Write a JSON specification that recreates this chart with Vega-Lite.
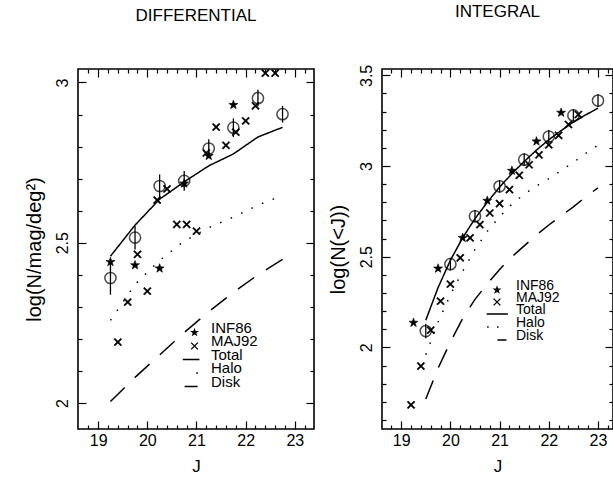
{
  "$schema": "https://vega.github.io/schema/vega-lite/v6.json",
  "padding": {"left": 23, "top": 2, "right": 0, "bottom": 0},
  "background": "white",
  "bounds": "flush",
  "spacing": 68,
  "config": {
    "font": "Liberation Sans",
    "view": {"stroke": "black", "strokeWidth": 1.6},
    "axis": {"domain": false, "grid": false, "tickColor": "black", "tickWidth": 1.2, "labelColor": "black", "titleColor": "black", "labelFontSize": 16, "titleFontSize": 20, "titleFontWeight": "normal", "labelFlush": false, "labelOverlap": false},
    "title": {"fontSize": 17, "fontWeight": "normal", "color": "black", "frame": "group", "anchor": "middle", "offset": 43}
  },
  "resolve": {"scale": {"x": "independent", "y": "independent", "shape": "independent", "strokeDash": "independent"}, "legend": {"shape": "independent"}},
  "datasets": {
    "diffObs": [
      {"J": 19.25, "logN": 2.39, "lo": 2.338, "hi": 2.442},
      {"J": 19.75, "logN": 2.516, "lo": 2.479, "hi": 2.553},
      {"J": 20.25, "logN": 2.677, "lo": 2.641, "hi": 2.713},
      {"J": 20.75, "logN": 2.693, "lo": 2.662, "hi": 2.724},
      {"J": 21.25, "logN": 2.794, "lo": 2.765, "hi": 2.823},
      {"J": 21.75, "logN": 2.859, "lo": 2.83, "hi": 2.888},
      {"J": 22.25, "logN": 2.951, "lo": 2.925, "hi": 2.977},
      {"J": 22.75, "logN": 2.901, "lo": 2.875, "hi": 2.927}
    ],
    "diffPts": [
      {"J": 19.25, "logN": 2.44, "series": "INF86"},
      {"J": 19.75, "logN": 2.43, "series": "INF86"},
      {"J": 20.25, "logN": 2.42, "series": "INF86"},
      {"J": 20.75, "logN": 2.685, "series": "INF86"},
      {"J": 21.25, "logN": 2.771, "series": "INF86"},
      {"J": 21.75, "logN": 2.93, "series": "INF86"},
      {"J": 19.4, "logN": 2.19, "series": "MAJ92"},
      {"J": 19.6, "logN": 2.315, "series": "MAJ92"},
      {"J": 19.8, "logN": 2.464, "series": "MAJ92"},
      {"J": 20.0, "logN": 2.349, "series": "MAJ92"},
      {"J": 20.2, "logN": 2.633, "series": "MAJ92"},
      {"J": 20.4, "logN": 2.668, "series": "MAJ92"},
      {"J": 20.6, "logN": 2.557, "series": "MAJ92"},
      {"J": 20.8, "logN": 2.557, "series": "MAJ92"},
      {"J": 21.0, "logN": 2.536, "series": "MAJ92"},
      {"J": 21.2, "logN": 2.78, "series": "MAJ92"},
      {"J": 21.4, "logN": 2.861, "series": "MAJ92"},
      {"J": 21.6, "logN": 2.804, "series": "MAJ92"},
      {"J": 21.8, "logN": 2.845, "series": "MAJ92"},
      {"J": 22.0, "logN": 2.88, "series": "MAJ92"},
      {"J": 22.2, "logN": 2.927, "series": "MAJ92"},
      {"J": 22.4, "logN": 3.029, "series": "MAJ92"},
      {"J": 22.6, "logN": 3.029, "series": "MAJ92"}
    ],
    "diffModel": [
      {"J": 19.25, "logN": 2.458, "component": "Total"},
      {"J": 19.75, "logN": 2.555, "component": "Total"},
      {"J": 20.25, "logN": 2.636, "component": "Total"},
      {"J": 20.75, "logN": 2.69, "component": "Total"},
      {"J": 21.25, "logN": 2.74, "component": "Total"},
      {"J": 21.75, "logN": 2.777, "component": "Total"},
      {"J": 22.25, "logN": 2.83, "component": "Total"},
      {"J": 22.75, "logN": 2.86, "component": "Total"},
      {"J": 19.25, "logN": 2.258, "component": "Halo"},
      {"J": 19.75, "logN": 2.37, "component": "Halo"},
      {"J": 20.25, "logN": 2.445, "component": "Halo"},
      {"J": 20.75, "logN": 2.505, "component": "Halo"},
      {"J": 21.25, "logN": 2.547, "component": "Halo"},
      {"J": 21.75, "logN": 2.58, "component": "Halo"},
      {"J": 22.25, "logN": 2.617, "component": "Halo"},
      {"J": 22.75, "logN": 2.648, "component": "Halo"},
      {"J": 19.25, "logN": 2.005, "component": "Disk"},
      {"J": 19.75, "logN": 2.08, "component": "Disk"},
      {"J": 20.25, "logN": 2.15, "component": "Disk"},
      {"J": 20.75, "logN": 2.22, "component": "Disk"},
      {"J": 21.25, "logN": 2.285, "component": "Disk"},
      {"J": 21.75, "logN": 2.345, "component": "Disk"},
      {"J": 22.25, "logN": 2.4, "component": "Disk"},
      {"J": 22.75, "logN": 2.448, "component": "Disk"}
    ],
    "intObs": [
      {"J": 19.5, "logN": 2.09, "lo": 2.05, "hi": 2.13},
      {"J": 20.0, "logN": 2.459, "lo": 2.424, "hi": 2.494},
      {"J": 20.5, "logN": 2.723, "lo": 2.688, "hi": 2.758},
      {"J": 21.0, "logN": 2.888, "lo": 2.853, "hi": 2.923},
      {"J": 21.5, "logN": 3.035, "lo": 3.0, "hi": 3.07},
      {"J": 22.0, "logN": 3.163, "lo": 3.128, "hi": 3.198},
      {"J": 22.5, "logN": 3.279, "lo": 3.244, "hi": 3.314},
      {"J": 23.0, "logN": 3.361, "lo": 3.326, "hi": 3.396}
    ],
    "intPts": [
      {"J": 19.25, "logN": 2.136, "series": "INF86"},
      {"J": 19.75, "logN": 2.435, "series": "INF86"},
      {"J": 20.25, "logN": 2.604, "series": "INF86"},
      {"J": 20.75, "logN": 2.809, "series": "INF86"},
      {"J": 21.25, "logN": 2.974, "series": "INF86"},
      {"J": 21.75, "logN": 3.136, "series": "INF86"},
      {"J": 22.25, "logN": 3.294, "series": "INF86"},
      {"J": 19.2, "logN": 1.683, "series": "MAJ92"},
      {"J": 19.4, "logN": 1.897, "series": "MAJ92"},
      {"J": 19.6, "logN": 2.095, "series": "MAJ92"},
      {"J": 19.8, "logN": 2.255, "series": "MAJ92"},
      {"J": 20.0, "logN": 2.349, "series": "MAJ92"},
      {"J": 20.2, "logN": 2.494, "series": "MAJ92"},
      {"J": 20.4, "logN": 2.604, "series": "MAJ92"},
      {"J": 20.6, "logN": 2.677, "series": "MAJ92"},
      {"J": 20.8, "logN": 2.741, "series": "MAJ92"},
      {"J": 21.0, "logN": 2.793, "series": "MAJ92"},
      {"J": 21.2, "logN": 2.87, "series": "MAJ92"},
      {"J": 21.4, "logN": 2.949, "series": "MAJ92"},
      {"J": 21.6, "logN": 3.007, "series": "MAJ92"},
      {"J": 21.8, "logN": 3.062, "series": "MAJ92"},
      {"J": 22.0, "logN": 3.117, "series": "MAJ92"},
      {"J": 22.2, "logN": 3.169, "series": "MAJ92"},
      {"J": 22.4, "logN": 3.229, "series": "MAJ92"},
      {"J": 22.6, "logN": 3.284, "series": "MAJ92"}
    ],
    "intModel": [
      {"J": 19.5, "logN": 2.15, "component": "Total"},
      {"J": 19.75, "logN": 2.33, "component": "Total"},
      {"J": 20.0, "logN": 2.48, "component": "Total"},
      {"J": 20.25, "logN": 2.605, "component": "Total"},
      {"J": 20.5, "logN": 2.71, "component": "Total"},
      {"J": 20.75, "logN": 2.8, "component": "Total"},
      {"J": 21.0, "logN": 2.884, "component": "Total"},
      {"J": 21.25, "logN": 2.958, "component": "Total"},
      {"J": 21.5, "logN": 3.025, "component": "Total"},
      {"J": 21.75, "logN": 3.088, "component": "Total"},
      {"J": 22.0, "logN": 3.145, "component": "Total"},
      {"J": 22.25, "logN": 3.195, "component": "Total"},
      {"J": 22.5, "logN": 3.242, "component": "Total"},
      {"J": 22.75, "logN": 3.282, "component": "Total"},
      {"J": 23.0, "logN": 3.319, "component": "Total"},
      {"J": 19.5, "logN": 1.96, "component": "Halo"},
      {"J": 19.75, "logN": 2.14, "component": "Halo"},
      {"J": 20.0, "logN": 2.29, "component": "Halo"},
      {"J": 20.25, "logN": 2.42, "component": "Halo"},
      {"J": 20.5, "logN": 2.54, "component": "Halo"},
      {"J": 20.75, "logN": 2.64, "component": "Halo"},
      {"J": 21.0, "logN": 2.72, "component": "Halo"},
      {"J": 21.25, "logN": 2.79, "component": "Halo"},
      {"J": 21.5, "logN": 2.845, "component": "Halo"},
      {"J": 21.75, "logN": 2.89, "component": "Halo"},
      {"J": 22.0, "logN": 2.93, "component": "Halo"},
      {"J": 22.25, "logN": 2.975, "component": "Halo"},
      {"J": 22.5, "logN": 3.02, "component": "Halo"},
      {"J": 22.75, "logN": 3.07, "component": "Halo"},
      {"J": 23.0, "logN": 3.115, "component": "Halo"},
      {"J": 19.5, "logN": 1.715, "component": "Disk"},
      {"J": 19.75, "logN": 1.885, "component": "Disk"},
      {"J": 20.0, "logN": 2.03, "component": "Disk"},
      {"J": 20.25, "logN": 2.16, "component": "Disk"},
      {"J": 20.5, "logN": 2.265, "component": "Disk"},
      {"J": 20.75, "logN": 2.35, "component": "Disk"},
      {"J": 21.0, "logN": 2.43, "component": "Disk"},
      {"J": 21.25, "logN": 2.5, "component": "Disk"},
      {"J": 21.5, "logN": 2.56, "component": "Disk"},
      {"J": 21.75, "logN": 2.62, "component": "Disk"},
      {"J": 22.0, "logN": 2.675, "component": "Disk"},
      {"J": 22.25, "logN": 2.725, "component": "Disk"},
      {"J": 22.5, "logN": 2.775, "component": "Disk"},
      {"J": 22.75, "logN": 2.83, "component": "Disk"},
      {"J": 23.0, "logN": 2.88, "component": "Disk"}
    ]
  },
  "hconcat": [
    {
      "width": 236,
      "height": 360,
      "title": {"text": "DIFFERENTIAL"},
      "resolve": {"axis": {"x": "independent", "y": "independent"}},
      "layer": [
        {
          "data": {"name": "diffModel"},
          "mark": {"type": "line", "stroke": "black", "strokeWidth": 1.5},
          "encoding": {
            "x": {"field": "J", "type": "quantitative", "scale": {"domain": [18.59, 23.39], "nice": false, "zero": false},
                  "axis": {"orient": "bottom", "values": [19, 20, 21, 22, 23], "tickSize": -8, "labelPadding": 11, "format": "d", "title": "J", "titleFontSize": 17, "titlePadding": 10}},
            "y": {"field": "logN", "type": "quantitative", "scale": {"domain": [1.919, 3.042], "nice": false, "zero": false},
                  "axis": {"orient": "left", "values": [2, 2.5, 3], "tickSize": -8, "labelPadding": 16, "labelAngle": -90, "format": "~g", "title": "log(N/mag/deg²)", "titlePadding": 10}},
            "strokeDash": {"field": "component", "type": "nominal", "scale": {"domain": ["Total", "Halo", "Disk"], "range": [[1, 0], [1.5, 10], [20, 14]]}, "legend": null}
          }
        },
        {
          "data": {"name": "diffObs"},
          "mark": {"type": "rule", "stroke": "black", "strokeWidth": 1.3},
          "encoding": {
            "x": {"field": "J", "type": "quantitative", "axis": {"orient": "bottom", "values": [18.8, 19.2, 19.4, 19.6, 19.8, 20.2, 20.4, 20.6, 20.8, 21.2, 21.4, 21.6, 21.8, 22.2, 22.4, 22.6, 22.8, 23.2], "tickSize": -4, "labels": false, "title": null}},
            "y": {"field": "lo", "type": "quantitative", "axis": {"orient": "left", "values": [2.1, 2.2, 2.3, 2.4, 2.6, 2.7, 2.8, 2.9], "tickSize": -4, "labels": false, "title": null}},
            "y2": {"field": "hi"}
          }
        },
        {
          "data": {"name": "diffObs"},
          "mark": {"type": "point", "shape": "circle", "size": 125, "filled": false, "stroke": "black", "strokeWidth": 1.5},
          "encoding": {
            "x": {"field": "J", "type": "quantitative", "axis": {"orient": "top", "values": [19, 20, 21, 22, 23], "tickSize": -8, "labels": false, "title": null}},
            "y": {"field": "logN", "type": "quantitative", "axis": {"orient": "right", "values": [2, 2.5, 3], "tickSize": -8, "labels": false, "title": null}}
          }
        },
        {
          "data": {"name": "diffPts"},
          "mark": {"type": "point", "size": 81, "filled": false, "fill": "black", "stroke": "black", "strokeWidth": 0.6, "opacity": 1, "fillOpacity": 1},
          "encoding": {
            "x": {"field": "J", "type": "quantitative", "axis": {"orient": "top", "values": [18.8, 19.2, 19.4, 19.6, 19.8, 20.2, 20.4, 20.6, 20.8, 21.2, 21.4, 21.6, 21.8, 22.2, 22.4, 22.6, 22.8, 23.2], "tickSize": -4, "labels": false, "title": null}},
            "y": {"field": "logN", "type": "quantitative", "axis": {"orient": "right", "values": [2.1, 2.2, 2.3, 2.4, 2.6, 2.7, 2.8, 2.9], "tickSize": -4, "labels": false, "title": null}},
            "shape": {"field": "series", "type": "nominal",
              "scale": {"domain": ["INF86", "MAJ92", "Total", "Halo", "Disk"],
                "range": ["M0,-1.05L0.25,-0.34L1,-0.32L0.4,0.13L0.62,0.85L0,0.42L-0.62,0.85L-0.4,0.13L-1,-0.32L-0.25,-0.34Z",
                  "M-0.644,-0.856L0.856,0.644L0.644,0.856L-0.856,-0.644ZM-0.856,0.644L0.644,-0.856L0.856,-0.644L-0.644,0.856Z",
                  "M0,-1M0,1M-2.6,-0.17L1.1,-0.17L1.1,0.17L-2.6,0.17Z",
                  "M0,-1M0,1M0.4,-0.17L0.75,-0.17L0.75,0.17L0.4,0.17Z",
                  "M0,-1M0,1M-2.2,-0.17L0.7,-0.17L0.7,0.17L-2.2,0.17Z"]},
              "legend": {"orient": "none", "legendX": 97, "legendY": 256, "title": null, "symbolSize": 81, "symbolOffset": 12, "symbolStrokeWidth": 0.5, "symbolFillColor": "black", "symbolStrokeColor": "black", "labelFontSize": 15, "labelColor": "black", "labelBaseline": "alphabetic", "labelOffset": 9, "rowPadding": -4.5, "padding": 0}}
          }
        }
      ]
    },
    {
      "width": 231,
      "height": 360,
      "title": {"text": "INTEGRAL"},
      "resolve": {"axis": {"x": "independent", "y": "independent"}},
      "layer": [
        {
          "data": {"name": "intModel"},
          "mark": {"type": "line", "stroke": "black", "strokeWidth": 1.5},
          "encoding": {
            "x": {"field": "J", "type": "quantitative", "scale": {"domain": [18.61, 23.305], "nice": false, "zero": false},
                  "axis": {"orient": "bottom", "values": [19, 20, 21, 22, 23], "tickSize": -8, "labelPadding": 11, "format": "d", "title": "J", "titleFontSize": 17, "titlePadding": 10}},
            "y": {"field": "logN", "type": "quantitative", "scale": {"domain": [1.55, 3.535], "nice": false, "zero": false},
                  "axis": {"orient": "left", "values": [2, 2.5, 3, 3.5], "tickSize": -8, "labelPadding": 16, "labelAngle": -90, "format": "~g", "title": "log(N(<J))", "titlePadding": 10}},
            "strokeDash": {"field": "component", "type": "nominal", "scale": {"domain": ["Total", "Halo", "Disk"], "range": [[1, 0], [1.5, 10], [20, 14]]}, "legend": null}
          }
        },
        {
          "data": {"name": "intObs"},
          "mark": {"type": "rule", "stroke": "black", "strokeWidth": 1.3},
          "encoding": {
            "x": {"field": "J", "type": "quantitative", "axis": {"orient": "bottom", "values": [18.8, 19.2, 19.4, 19.6, 19.8, 20.2, 20.4, 20.6, 20.8, 21.2, 21.4, 21.6, 21.8, 22.2, 22.4, 22.6, 22.8, 23.2], "tickSize": -4, "labels": false, "title": null}},
            "y": {"field": "lo", "type": "quantitative", "axis": {"orient": "left", "values": [1.6, 1.7, 1.8, 1.9, 2.1, 2.2, 2.3, 2.4, 2.6, 2.7, 2.8, 2.9, 3.1, 3.2, 3.3, 3.4], "tickSize": -4, "labels": false, "title": null}},
            "y2": {"field": "hi"}
          }
        },
        {
          "data": {"name": "intObs"},
          "mark": {"type": "point", "shape": "circle", "size": 125, "filled": false, "stroke": "black", "strokeWidth": 1.5},
          "encoding": {
            "x": {"field": "J", "type": "quantitative", "axis": {"orient": "top", "values": [19, 20, 21, 22, 23], "tickSize": -8, "labels": false, "title": null}},
            "y": {"field": "logN", "type": "quantitative", "axis": {"orient": "right", "values": [2, 2.5, 3, 3.5], "tickSize": -8, "labels": false, "title": null}}
          }
        },
        {
          "data": {"name": "intPts"},
          "mark": {"type": "point", "size": 81, "filled": false, "fill": "black", "stroke": "black", "strokeWidth": 0.6, "opacity": 1, "fillOpacity": 1},
          "encoding": {
            "x": {"field": "J", "type": "quantitative", "axis": {"orient": "top", "values": [18.8, 19.2, 19.4, 19.6, 19.8, 20.2, 20.4, 20.6, 20.8, 21.2, 21.4, 21.6, 21.8, 22.2, 22.4, 22.6, 22.8, 23.2], "tickSize": -4, "labels": false, "title": null}},
            "y": {"field": "logN", "type": "quantitative", "axis": {"orient": "right", "values": [1.6, 1.7, 1.8, 1.9, 2.1, 2.2, 2.3, 2.4, 2.6, 2.7, 2.8, 2.9, 3.1, 3.2, 3.3, 3.4], "tickSize": -4, "labels": false, "title": null}},
            "shape": {"field": "series", "type": "nominal",
              "scale": {"domain": ["INF86", "MAJ92", "Total", "Halo", "Disk"],
                "range": ["M0,-1.05L0.25,-0.34L1,-0.32L0.4,0.13L0.62,0.85L0,0.42L-0.62,0.85L-0.4,0.13L-1,-0.32L-0.25,-0.34Z",
                  "M-0.644,-0.856L0.856,0.644L0.644,0.856L-0.856,-0.644ZM-0.856,0.644L0.644,-0.856L0.856,-0.644L-0.644,0.856Z",
                  "M0,-1M0,1M-2.3,-0.17L2.4,-0.17L2.4,0.17L-2.3,0.17Z",
                  "M0,-1M0,1M-2.2,-0.17L-1.85,-0.17L-1.85,0.17L-2.2,0.17ZM0,-0.17L0.35,-0.17L0.35,0.17L0,0.17Z",
                  "M0,-1M0,1M0.1,-0.17L2.1,-0.17L2.1,0.17L0.1,0.17Z"]},
              "legend": {"orient": "none", "legendX": 97, "legendY": 214, "title": null, "symbolSize": 81, "symbolOffset": 11, "symbolStrokeWidth": 0.5, "symbolFillColor": "black", "symbolStrokeColor": "black", "labelFontSize": 14, "labelColor": "black", "labelBaseline": "alphabetic", "labelOffset": 12, "rowPadding": -8, "padding": 0}}
          }
        }
      ]
    }
  ]
}
